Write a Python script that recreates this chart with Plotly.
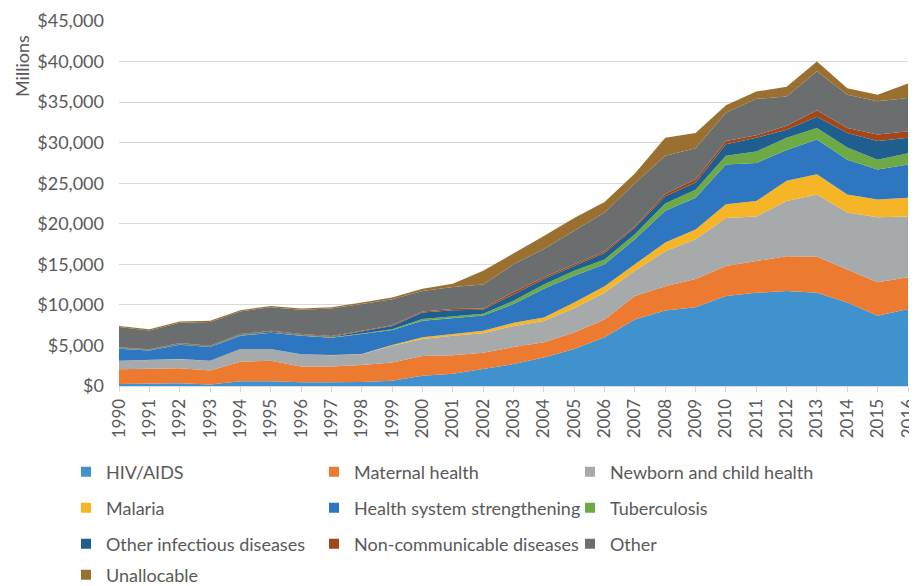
import plotly.graph_objects as go

years = list(range(1990, 2017))

hiv_aids = [250, 330, 330, 200, 600, 600, 450, 450, 500, 650, 1270, 1500, 2100, 2700, 3500, 4550, 6000, 8200, 9300, 9700, 11100, 11500, 11700, 11500, 10300, 8650, 9500]
maternal_health = [1800, 1770, 1870, 1700, 2400, 2500, 1950, 1950, 2100, 2250, 2430, 2300, 2000, 2100, 1900, 2050, 2200, 2900, 3000, 3500, 3700, 3900, 4300, 4450, 4100, 4150, 3900]
newborn_child = [1050, 1100, 1100, 1200, 1550, 1450, 1500, 1400, 1300, 2050, 2100, 2400, 2400, 2600, 2600, 3000, 3300, 3100, 4300, 4900, 5900, 5500, 6800, 7650, 7000, 8000, 7500]
malaria = [20, 20, 20, 20, 20, 20, 20, 20, 50, 100, 200, 200, 300, 400, 450, 700, 800, 800, 1100, 1200, 1700, 1900, 2500, 2500, 2200, 2200, 2300]
health_system = [1480, 1150, 1780, 1680, 1630, 1980, 2280, 2130, 2450, 1850, 2030, 2000, 1900, 2300, 3550, 3300, 2700, 3100, 3900, 3900, 4900, 4700, 3800, 4300, 4300, 3700, 4100]
tuberculosis = [50, 50, 50, 50, 50, 60, 60, 60, 60, 100, 220, 200, 200, 400, 500, 600, 600, 600, 900, 1000, 1100, 1400, 1500, 1400, 1500, 1200, 1400]
other_infectious = [60, 60, 80, 60, 80, 100, 70, 70, 250, 400, 800, 750, 500, 800, 700, 600, 800, 800, 900, 900, 1400, 1700, 1000, 1400, 1800, 2300, 1900]
non_communicable = [60, 60, 70, 50, 70, 90, 70, 70, 90, 100, 150, 150, 150, 300, 200, 200, 200, 200, 300, 400, 400, 300, 500, 800, 600, 800, 800]
other = [2500, 2310, 2500, 2940, 2800, 2900, 3000, 3400, 3300, 3200, 2500, 2700, 2950, 3400, 3500, 4200, 4800, 5300, 4700, 3800, 3500, 4500, 3600, 4800, 4100, 4100, 4100]
unallocable = [130, 150, 150, 150, 150, 150, 150, 150, 200, 200, 300, 400, 1700, 1300, 1600, 1500, 1300, 1200, 2200, 1900, 900, 900, 1200, 1200, 800, 800, 1800]

series = [
    ("HIV/AIDS", hiv_aids, "#3F92CE"),
    ("Maternal health", maternal_health, "#EC7A30"),
    ("Newborn and child health", newborn_child, "#A7AAAB"),
    ("Malaria", malaria, "#F6B526"),
    ("Health system strengthening", health_system, "#2E76BF"),
    ("Tuberculosis", tuberculosis, "#6DAA45"),
    ("Other infectious diseases", other_infectious, "#1F5F8F"),
    ("Non-communicable diseases", non_communicable, "#A2471A"),
    ("Other", other, "#6B6E6F"),
    ("Unallocable", unallocable, "#9A7030"),
]

# legend text start (x) and row centre (y), in page pixels
legend_text_x = [106, 354, 610, 106, 354, 610, 106, 354, 610, 106]
legend_row_y = [472, 472, 472, 508, 508, 508, 544, 544, 544, 575]

font_family = "Lato, 'Open Sans', sans-serif"
text_color = "#595959"

OFF = 8  # page body margin offset of the plot div
PAGE_W, PAGE_H = 917, 586
W, H = PAGE_W - OFF, PAGE_H - OFF
# plot area in page pixels
P_L, P_R, P_T, P_B = 119, 908, 21, 386
L, R, T, B = P_L - OFF, W - (P_R - OFF), P_T - OFF, H - (P_B - OFF)
pw, ph = W - L - R, H - T - B

def px_x(x):
    return (x - OFF - L) / pw

def px_y(y):
    return (H - B - (y - OFF)) / ph

fig = go.Figure()
for name, vals, color in series:
    fig.add_trace(go.Scatter(
        x=years, y=vals, name=name, mode="lines",
        stackgroup="one", line=dict(width=0, color=color),
        fillcolor=color, showlegend=False,
    ))

legends = {}
for i, (name, vals, color) in enumerate(series):
    key = "legend" if i == 0 else f"legend{i + 1}"
    fig.add_trace(go.Scatter(
        x=[None], y=[None], name=name, mode="markers",
        marker=dict(symbol="square", size=10, color=color),
        legend=key, showlegend=True, hoverinfo="skip",
    ))
    legends[key] = dict(
        x=px_x(legend_text_x[i] - 40), y=px_y(legend_row_y[i]),
        xanchor="left", yanchor="middle", orientation="h",
        font=dict(family=font_family, size=18, color=text_color),
        itemwidth=30, bgcolor="rgba(0,0,0,0)", borderwidth=0,
    )

fig.update_layout(
    width=W, height=H,
    margin=dict(l=L, r=R, t=T, b=B, autoexpand=False),
    paper_bgcolor="white", plot_bgcolor="white",
    font=dict(family=font_family, color=text_color),
    showlegend=True,
    xaxis=dict(
        range=[1990, 2016], tickmode="linear", tick0=1990, dtick=1,
        tickangle=-90, tickfont=dict(size=17, color=text_color, family=font_family),
        showgrid=False, showline=True, linecolor="#D9D9D9", linewidth=1,
        ticks="outside", ticklen=5, tickcolor="#D9D9D9", zeroline=False,
        automargin=False, ticklabeloverflow="allow",
    ),
    yaxis=dict(
        range=[0, 45000], tickmode="linear", tick0=0, dtick=5000,
        tickprefix="$", tickformat=",d",
        tickfont=dict(size=18, color=text_color, family=font_family),
        showgrid=True, gridcolor="#D9D9D9", gridwidth=1,
        zeroline=False, showline=False, ticklabelstandoff=14,
        automargin=False,
    ),
    annotations=[dict(
        text="Millions", textangle=-90, showarrow=False,
        xref="paper", yref="paper", x=px_x(22), y=px_y(66),
        xanchor="center", yanchor="middle",
        font=dict(size=18, color=text_color, family=font_family),
    )],
    **legends,
)

fig.write_html("out.html")
